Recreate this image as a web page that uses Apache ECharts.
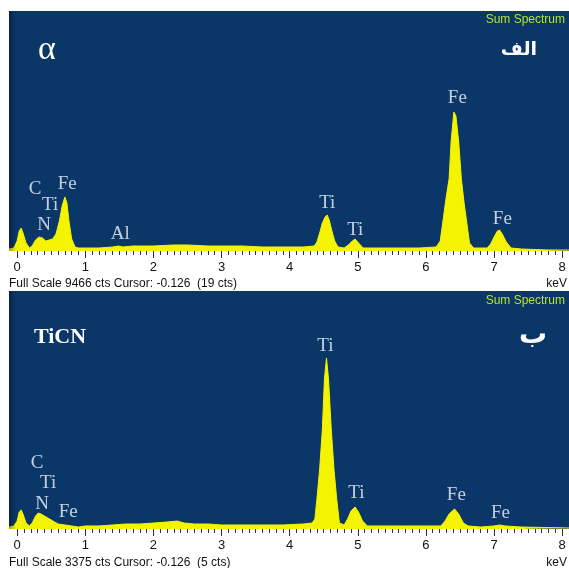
<!DOCTYPE html>
<html>
<head>
<meta charset="utf-8">
<script src="https://cdn.jsdelivr.net/npm/echarts@6/dist/echarts.min.js"></script>
<style>
html,body{margin:0;padding:0;background:#ffffff;}
#chart{width:569px;height:568px;}
</style>
</head>
<body>
<div id="chart"></div>
<script>
// ---- Panel 1 (alpha / الف) spectrum: energy (keV) and counts ----
const energy1 = [-0.12,-0.05,0.00,0.03,0.06,0.09,0.13,0.18,0.22,0.27,0.32,0.37,0.42,0.47,0.52,0.57,0.62,0.66,0.70,0.73,0.76,0.80,0.85,0.90,1.00,1.20,1.40,1.49,1.55,1.70,2.00,2.30,2.50,2.80,3.00,3.30,3.60,3.90,4.20,4.36,4.40,4.44,4.48,4.52,4.55,4.58,4.62,4.66,4.71,4.80,4.86,4.92,4.96,5.01,5.08,5.30,5.60,5.90,6.15,6.21,6.25,6.30,6.34,6.37,6.41,6.44,6.48,6.52,6.56,6.60,6.64,6.70,6.90,6.95,7.00,7.05,7.08,7.12,7.18,7.25,7.40,7.80,8.10];
const counts1 = [79,118,394,789,907,670,315,118,197,434,552,513,394,434,473,670,1183,1775,2130,1893,1183,473,158,118,118,118,158,197,158,197,197,237,237,197,197,197,158,158,158,197,355,710,1104,1341,1420,1223,789,394,158,118,237,394,473,315,118,118,118,118,158,394,1183,2169,2840,4338,5482,5324,4338,2840,1893,1104,315,118,118,276,552,789,828,670,355,118,79,39,39];
const fullScale1 = 9466;

// ---- Panel 2 (TiCN / ب) spectrum ----
const energy2 = [-0.12,-0.05,0.00,0.03,0.06,0.09,0.13,0.18,0.22,0.27,0.31,0.35,0.40,0.45,0.50,0.55,0.60,0.70,0.80,0.90,1.00,1.20,1.40,1.60,1.80,2.00,2.20,2.35,2.45,2.60,2.80,3.00,3.30,3.60,3.90,4.20,4.33,4.37,4.40,4.44,4.48,4.51,4.54,4.57,4.61,4.65,4.69,4.73,4.80,4.85,4.90,4.96,5.01,5.07,5.14,5.40,5.70,6.00,6.22,6.28,6.34,6.42,6.48,6.55,6.62,6.80,7.00,7.08,7.16,7.40,8.10];
const counts2 = [28,43,113,241,269,199,85,43,85,184,227,213,184,156,128,99,71,57,43,28,43,43,57,71,71,85,99,113,85,71,71,57,57,57,57,71,85,142,425,851,1418,2127,2425,2127,1418,851,425,85,57,142,255,312,241,113,43,43,43,43,43,113,213,284,213,85,43,28,43,57,43,28,14];
const fullScale2 = 3375;

// ---- Element labels: name, energy anchor, count anchor ----
const labelNames1 = ['C','Ti','Fe','N','Al','Ti','Ti','Fe','Fe'];
const labelKeV1   = [0.264,0.485,0.734,0.396,1.512,4.552,4.963,6.461,7.122];
const labelCts1   = [2445,1814,2642,1025,670,1893,828,6034,1262];

const labelNames2 = ['C','Ti','N','Fe','Ti','Ti','Fe','Fe'];
const labelKeV2   = [0.294,0.455,0.367,0.749,4.523,4.978,6.446,7.093];
const labelCts2   = [936,652,355,241,2595,510,482,227];

// ---- Axis tick labels ----
const tickLabels = [0,1,2,3,4,5,6,7,8];

const xMin = -0.12, xMax = 8.1;
const minorTicks = [];
for (let i = 0; i <= 81; i++) minorTicks.push(+(i * 0.1).toFixed(1));

const BLUE = '#0b3768';
const YELLOW = '#f4f400';
const zip = (a, b) => a.map((v, i) => [v, b[i]]);

function xAxesFor(g) {
  return [
    {
      gridIndex: g, type: 'value', min: xMin, max: xMax, position: 'bottom',
      axisLine: { show: false }, splitLine: { show: false },
      axisTick: { show: true, length: 7, customValues: tickLabels, lineStyle: { color: '#333', width: 1 } },
      axisLabel: { show: true, customValues: tickLabels, color: '#111', fontSize: 13, margin: 10, fontFamily: 'Liberation Sans' }
    },
    {
      gridIndex: g, type: 'value', min: xMin, max: xMax, position: 'bottom',
      axisLine: { show: false }, splitLine: { show: false },
      axisTick: { show: true, length: 4, customValues: minorTicks, lineStyle: { color: '#333', width: 1 } },
      axisLabel: { show: false }
    }
  ];
}

function specSeries(xi, yi, data) {
  return {
    type: 'line', xAxisIndex: xi, yAxisIndex: yi, data: data,
    showSymbol: false, symbol: 'none', smooth: false,
    lineStyle: { color: YELLOW, width: 1 },
    areaStyle: { color: YELLOW, opacity: 1 },
    silent: true, z: 2
  };
}

function labelSeries(xi, yi, names, kev, cts) {
  return {
    type: 'scatter', xAxisIndex: xi, yAxisIndex: yi,
    symbolSize: 1, itemStyle: { color: 'rgba(0,0,0,0)' },
    data: names.map((n, i) => ({ value: [kev[i], cts[i]], name: n })),
    label: {
      show: true, position: 'inside', formatter: p => p.name,
      color: '#f2f5fa', fontSize: 19, fontFamily: 'Liberation Serif'
    },
    silent: true, z: 5
  };
}

const chart = echarts.init(document.getElementById('chart'));
chart.setOption({
  animation: false,
  backgroundColor: '#ffffff',
  grid: [
    { left: 9, right: 0, top: 11, height: 240, show: true, backgroundColor: BLUE, borderWidth: 0 },
    { left: 9, right: 0, top: 291, height: 238, show: true, backgroundColor: BLUE, borderWidth: 0 }
  ],
  xAxis: [...xAxesFor(0), ...xAxesFor(1)],
  yAxis: [
    { gridIndex: 0, type: 'value', min: 0, max: fullScale1, show: false },
    { gridIndex: 1, type: 'value', min: 0, max: fullScale2, show: false }
  ],
  series: [
    specSeries(0, 0, zip(energy1, counts1)),
    specSeries(2, 1, zip(energy2, counts2)),
    labelSeries(0, 0, labelNames1, labelKeV1, labelCts1),
    labelSeries(2, 1, labelNames2, labelKeV2, labelCts2)
  ],
  graphic: [
    { type: 'rect', shape: { x: 9, y: 11, width: 7, height: 240 }, silent: true, z: 10,
      style: { fill: { type: 'linear', x: 0, y: 0, x2: 1, y2: 0, colorStops: [{ offset: 0, color: 'rgba(0,0,0,0.35)' }, { offset: 1, color: 'rgba(0,0,0,0)' }] } } },
    { type: 'rect', shape: { x: 9, y: 291, width: 7, height: 238 }, silent: true, z: 10,
      style: { fill: { type: 'linear', x: 0, y: 0, x2: 1, y2: 0, colorStops: [{ offset: 0, color: 'rgba(0,0,0,0.35)' }, { offset: 1, color: 'rgba(0,0,0,0)' }] } } },
    { type: 'text', x: 565, y: 20, z: 10, style: { text: 'Sum Spectrum', fill: '#b9e62a', font: '12px "Liberation Sans"', textAlign: 'right', textVerticalAlign: 'middle' } },
    { type: 'text', x: 565, y: 301, z: 10, style: { text: 'Sum Spectrum', fill: '#b9e62a', font: '12px "Liberation Sans"', textAlign: 'right', textVerticalAlign: 'middle' } },
    { type: 'text', x: 47, y: 50, z: 10, style: { text: 'α', fill: '#ffffff', font: '34px "Liberation Serif"', textAlign: 'center', textVerticalAlign: 'middle' } },
    { type: 'text', x: 519, y: 50, z: 10, style: { text: 'الف', fill: '#ffffff', font: 'bold 19px "DejaVu Sans"', textAlign: 'center', textVerticalAlign: 'middle' } },
    { type: 'text', x: 60, y: 337, z: 10, style: { text: 'TiCN', fill: '#ffffff', font: 'bold 22px "Liberation Serif"', textAlign: 'center', textVerticalAlign: 'middle' } },
    { type: 'text', x: 533, y: 336, z: 10, style: { text: 'ب', fill: '#ffffff', font: 'bold 28px "DejaVu Sans"', textAlign: 'center', textVerticalAlign: 'middle' } },
    { type: 'text', x: 9, y: 284, z: 10, style: { text: 'Full Scale 9466 cts Cursor: -0.126  (19 cts)', fill: '#111', font: '12px "Liberation Sans"', textAlign: 'left', textVerticalAlign: 'middle' } },
    { type: 'text', x: 567, y: 284, z: 10, style: { text: 'keV', fill: '#111', font: '12px "Liberation Sans"', textAlign: 'right', textVerticalAlign: 'middle' } },
    { type: 'text', x: 9, y: 563, z: 10, style: { text: 'Full Scale 3375 cts Cursor: -0.126  (5 cts)', fill: '#111', font: '12px "Liberation Sans"', textAlign: 'left', textVerticalAlign: 'middle' } },
    { type: 'text', x: 567, y: 563, z: 10, style: { text: 'keV', fill: '#111', font: '12px "Liberation Sans"', textAlign: 'right', textVerticalAlign: 'middle' } }
  ]
});
</script>
</body>
</html>
